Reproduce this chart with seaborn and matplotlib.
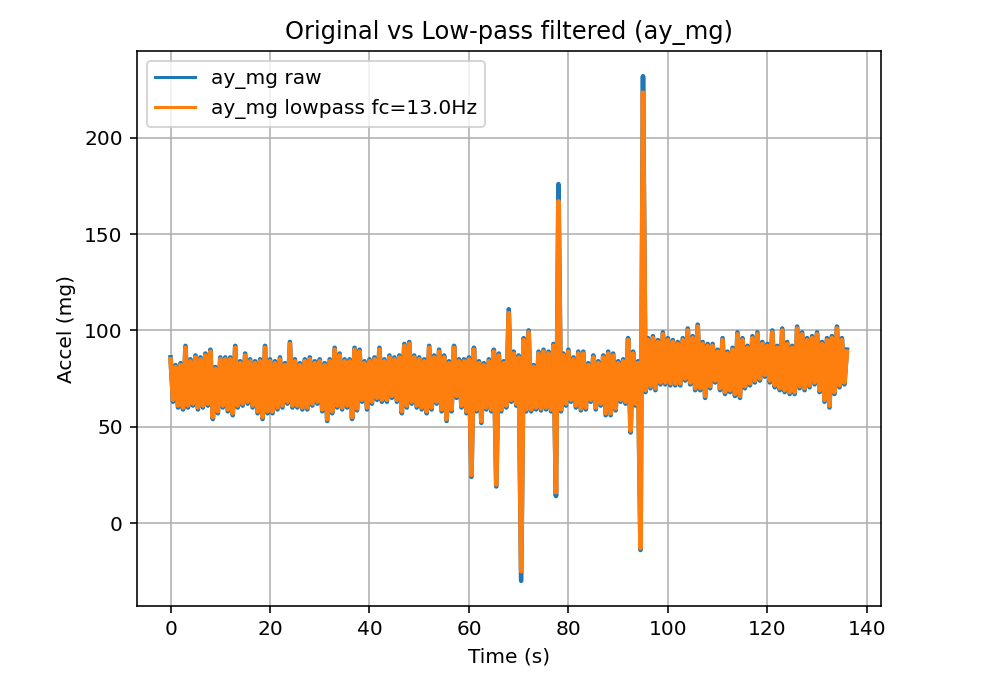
import numpy as np
import pandas as pd
import matplotlib
matplotlib.use("Agg")
import matplotlib.pyplot as plt
import seaborn as sns

# ---- data ----
SAMPLE_PERIOD_S = 0.5  # peaks sit on whole seconds, troughs on half seconds

raw_peaks = [
    86, 82, 83, 92, 85, 87, 86, 88, 90, 81, 86, 86, 86, 92, 84, 88, 85, 84, 85, 92,
    85, 84, 86, 83, 94, 85, 83, 85, 86, 84, 85, 83, 85, 91,
    88, 85, 85, 91, 90, 84, 85, 86, 91, 85, 87, 86, 87, 93, 94, 87, 86, 85, 92, 87,
    90, 87, 84, 92, 85, 85, 86, 91, 84, 83, 85, 90, 88, 84,
    111, 89, 87, 96, 100, 82, 89, 90, 89, 93, 176, 88, 90, 86, 89, 89, 83, 87, 84, 87,
    89, 88, 84, 85, 96, 89, 84, 232,
    96, 97, 95, 99, 96, 95, 94, 96,
    101, 97, 103, 94, 93, 93, 90, 96, 89, 91, 99, 96, 92, 97, 99, 94, 93, 100, 92, 101,
    94, 92, 102, 99, 96, 97, 99, 94, 96, 97, 102, 96, 90,
]
raw_troughs = [
    63, 60, 59, 60, 61, 59, 60, 61, 54, 57, 60, 58, 56, 60, 61, 62, 60, 57, 54, 57,
    57, 59, 60, 62, 60, 60, 59, 59, 61, 62, 58, 53, 57, 60,
    59, 60, 54, 58.5, 63, 59, 62, 64, 63, 63, 65, 63, 57, 60, 62, 60, 59, 57, 59, 62,
    58, 53, 58, 65, 60, 57, 24, 58, 52, 59, 58, 19, 58, 60,
    63, 61, -30, 58, 58, 59, 58.5, 59, 58, 14, 58, 61, 63, 60, 58.5, 59, 63, 59, 61, 56,
    56, 58.5, 63, 62, 47, 61, -14,
    68, 70, 69, 72, 72, 71.5, 71.5, 71.5,
    74, 72, 69, 69, 65, 70, 73, 69, 67, 68, 66, 65, 70, 71.5, 73, 74, 76, 73, 70.5, 69,
    68, 67, 67, 70, 69, 70.5, 72, 68, 63, 60, 67, 70.5, 72,
]
lowpass_peaks = [
    85, 81, 82, 91, 84, 86, 85, 87, 89, 80, 85, 85, 85, 91, 83, 87, 84, 83, 84, 91,
    84, 83, 85, 82, 93, 84, 82, 84, 85, 83, 84, 82, 84, 90,
    87, 84, 84, 90, 89, 83, 84, 85, 90, 84, 86, 85, 86, 92, 93, 86, 85, 84, 91, 86,
    89, 86, 83, 91, 84, 84, 85, 90, 83, 82, 84, 89, 87, 83,
    109, 88, 86, 95, 99, 81, 88, 89, 88, 92, 167, 87, 89, 85, 88, 88, 82, 86, 83, 86,
    88, 87, 83, 84, 95, 88, 83, 223.5,
    95, 96, 94, 98, 95, 94, 93, 95,
    100, 96, 102, 93, 92, 92, 89, 95, 88, 90, 98, 95, 91, 96, 98, 93, 92, 99, 91, 100,
    93, 91, 101, 98, 95, 96, 98, 93, 95, 96, 101, 95, 89,
]
lowpass_troughs = [
    64, 61, 60, 61, 62, 60, 61, 62, 55, 58, 61, 59, 57, 61, 62, 63, 61, 58, 55, 58,
    58, 60, 61, 63, 61, 61, 60, 60, 62, 63, 59, 54, 58, 61,
    60, 61, 55, 59.5, 64, 60, 63, 65, 64, 64, 66, 64, 58, 61, 63, 61, 60, 58, 60, 63,
    59, 54, 59, 66, 61, 58, 25, 59, 53, 60, 59, 20, 59, 61,
    64, 62, -25, 59, 59, 60, 59.5, 60, 59, 16, 59, 62, 64, 61, 59.5, 60, 64, 60, 62, 57,
    57, 59.5, 64, 63, 48, 62, -13,
    69, 71, 70, 73, 73, 72.5, 72.5, 72.5,
    75, 73, 70, 70, 66, 71, 74, 70, 68, 69, 67, 66, 71, 72.5, 74, 75, 77, 74, 71.5, 70,
    69, 68, 68, 71, 70, 71.5, 73, 69, 64, 61, 68, 71.5, 73,
]

RAW_LABEL = "ay_mg raw"
LOWPASS_LABEL = "ay_mg lowpass fc=13.0Hz"
TITLE = "Original vs Low-pass filtered (ay_mg)"
XLABEL = "Time (s)"
YLABEL = "Accel (mg)"


def interleave(peaks, troughs):
    out = []
    for i, p in enumerate(peaks):
        out.append(p)
        if i < len(troughs):
            out.append(troughs[i])
    return np.array(out, dtype=float)


raw = interleave(raw_peaks, raw_troughs)
low = interleave(lowpass_peaks, lowpass_troughs)
t = np.arange(len(raw)) * SAMPLE_PERIOD_S

df = pd.DataFrame({"t": t, "raw": raw, "low": low})

DPI = 145
fig = plt.figure(figsize=(991 / DPI, 684 / DPI), dpi=DPI)
ax = fig.add_axes([0.138, 0.114, 0.7507, 0.8114])

sns.lineplot(data=df, x="t", y="raw", ax=ax, color="#1f77b4", label=RAW_LABEL,
             estimator=None, sort=False, linewidth=2.3)
sns.lineplot(data=df, x="t", y="low", ax=ax, color="#ff7f0e", label=LOWPASS_LABEL,
             estimator=None, sort=False, linewidth=2.3)

ax.set_title(TITLE)
ax.set_xlabel(XLABEL)
ax.set_ylabel(YLABEL)
ax.grid(True)
leg = ax.legend(loc="upper left")
for h in leg.get_lines():
    h.set_linewidth(1.5)

fig.savefig("out.png", dpi=DPI)
